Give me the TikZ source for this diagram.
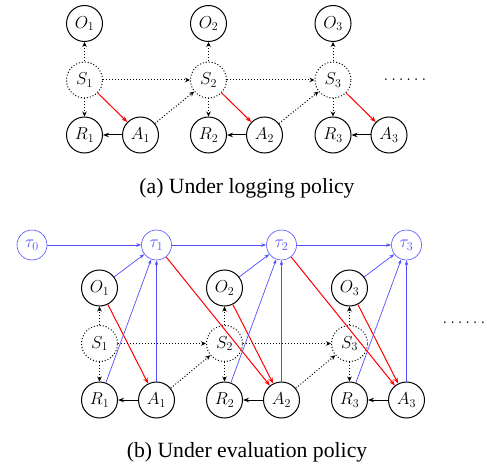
\documentclass[tikz,border=0pt]{standalone}
\usepackage[no-math]{fontspec}
\newfontfamily\capfont{Liberation Serif}
\usetikzlibrary{arrows.meta}
\definecolor{tblue}{RGB}{80,80,255}
\begin{document}
\begin{tikzpicture}[x=1pt,y=-1pt,
  v/.style={circle,draw,line width=1pt,minimum size=36pt,inner sep=0pt,font=\LARGE},
  sv/.style={v,dotted},
  tv/.style={circle,draw=tblue,text=tblue,line width=0.6pt,minimum size=30pt,inner sep=0pt,font=\LARGE},
  darr/.style={dotted,line width=1pt,-{Stealth[length=5pt,width=4.5pt]}},
  rarr/.style={red,line width=1pt,-{Stealth[length=6pt,width=4.5pt]}},
  barr/.style={black,line width=1pt,-{Stealth[length=6pt,width=4.5pt]}},
  tarr/.style={draw=tblue,line width=0.7pt,-{Stealth[length=5pt,width=3.5pt]}},
  captext/.style={font=\capfont\fontsize{21.7}{26}\selectfont,anchor=base},
  dotstext/.style={anchor=base west,font=\LARGE,inner sep=0pt}
]
\useasboundingbox (0,0) rectangle (487,468);
% ---------- (a)
\foreach \i/\xo in {1/84.5,2/208.5,3/333}{
  \node[v]  (aO\i) at (\xo,23.5) {$O_\i$};
  \node[sv] (aS\i) at (\xo,80)   {$S_\i$};
  \node[v]  (aR\i) at (\xo,135)  {$R_\i$};
  \node[v]  (aA\i) at (\xo+56,135) {$A_\i$};
  \draw[darr] (aS\i) -- (aO\i);
  \draw[darr] (aS\i) -- (aR\i);
  \draw[rarr] (aS\i) -- (aA\i);
  \draw[barr] (aA\i) -- (aR\i);
}
\foreach \i/\j in {1/2,2/3}{
  \draw[darr] (aS\i) -- (aS\j);
  \draw[darr] (aA\i) -- (aS\j);
}
\node[dotstext] (adots) at (383.5,81) {$\ldots\ldots$};
\node[captext] (capa) at (247,193.3) {(a) Under logging policy};
% ---------- (b)
\node[tv] (bT0) at (32,245) {$\tau_0$};
\foreach \i/\xo in {1/99.5,2/224.5,3/349.5}{
  \node[tv] (bT\i) at (\xo+57,245) {$\tau_\i$};
  \node[v]  (bO\i) at (\xo,288)   {$O_\i$};
  \node[sv] (bS\i) at (\xo,343.5) {$S_\i$};
  \node[v]  (bR\i) at (\xo,400)   {$R_\i$};
  \node[v]  (bA\i) at (\xo+57,400) {$A_\i$};
  \draw[darr] (bS\i) -- (bO\i);
  \draw[darr] (bS\i) -- (bR\i);
  \draw[rarr] (bO\i) -- (bA\i);
  \draw[barr] (bA\i) -- (bR\i);
  \draw[tarr] (bO\i) -- (bT\i);
  \draw[tarr] (bR\i) -- (bT\i);
  \draw[tarr] (bA\i) -- (bT\i);
}
\draw[tarr] (bT0) -- (bT1);
\foreach \i/\j in {1/2,2/3}{
  \draw[tarr] (bT\i) -- (bT\j);
  \draw[rarr] (bT\i) -- (bA\j);
  \draw[darr] (bS\i) -- (bS\j);
  \draw[darr] (bA\i) -- (bS\j);
}
\node[dotstext] (bdots) at (442.5,323.5) {$\ldots\ldots$};
\node[captext] (capb) at (247,457) {(b) Under evaluation policy};
\end{tikzpicture}
\end{document}
